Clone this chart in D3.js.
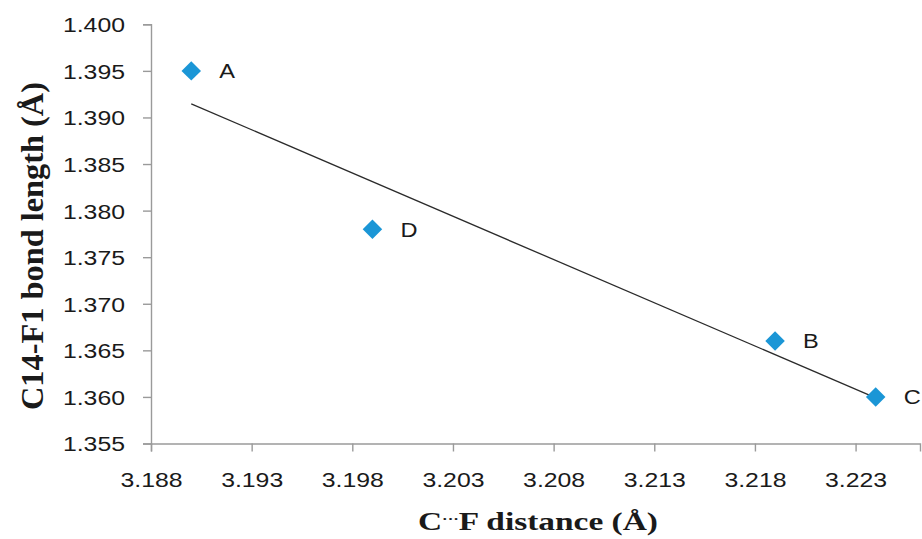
<!DOCTYPE html>
<html>
<head>
<meta charset="utf-8">
<script src="https://cdn.jsdelivr.net/npm/d3@7"></script>
<style>
  body { margin: 0; background: #fff; }
  svg { display: block; }
  .tick text, .ptlabel { font-family: "Liberation Sans", Arial, sans-serif; font-size: 20.5px; fill: #1a1a1a; }
  .title { font-family: "Liberation Serif", "Times New Roman", serif; font-weight: bold; fill: #1a1a1a; }
</style>
</head>
<body>
<svg width="922" height="539"></svg>
<script>
/* values */
var names = ["A", "D", "B", "C"];
var cf_distance = [3.190, 3.199, 3.219, 3.224];
var bond_length = [1.395, 1.378, 1.366, 1.360];
var x_ticks = [3.188, 3.193, 3.198, 3.203, 3.208, 3.213, 3.218, 3.223];
var y_ticks = [1.355, 1.360, 1.365, 1.370, 1.375, 1.380, 1.385, 1.390, 1.395, 1.400];

var svg = d3.select("svg");
var x = d3.scaleLinear().domain([3.188, 3.2262]).range([151, 920]);
var y = d3.scaleLinear().domain([1.355, 1.400]).range([443.5, 24.3]);

// the text in the picture is wider than the fonts we have, stretch it a bit
function stretch(sel, k) {
  sel.each(function() {
    var w = this.getComputedTextLength();
    d3.select(this).attr("textLength", w * k).attr("lengthAdjust", "spacingAndGlyphs");
  });
}

var xAxis = svg.append("g")
  .attr("transform", "translate(0,443.5)")
  .call(d3.axisBottom(x).tickValues(x_ticks).tickFormat(d3.format(".3f")).tickSizeOuter(0).tickSize(8).tickPadding(0));
xAxis.selectAll("text").attr("dy", null).attr("y", 43.5);

var yAxis = svg.append("g")
  .attr("transform", "translate(151,0)")
  .call(d3.axisLeft(y).tickValues(y_ticks).tickFormat(d3.format(".3f")).tickSizeOuter(0).tickSize(8).tickPadding(0));
yAxis.selectAll("text").attr("x", -26).attr("dy", "0.36em");

svg.selectAll(".domain, .tick line").attr("stroke", "#9a9a9a").attr("stroke-width", 1.4);
stretch(svg.selectAll(".tick text"), 1.21);

/* linear trend line through the points (least squares) */
var mx = d3.mean(cf_distance), my = d3.mean(bond_length);
var sxy = d3.sum(cf_distance, function(d, i) { return (d - mx) * (bond_length[i] - my); });
var sxx = d3.sum(cf_distance, function(d) { return (d - mx) * (d - mx); });
var slope = sxy / sxx, icpt = my - slope * mx;
var x0 = d3.min(cf_distance), x1 = d3.max(cf_distance);
svg.append("line")
  .attr("x1", x(x0)).attr("y1", y(slope * x0 + icpt))
  .attr("x2", x(x1)).attr("y2", y(slope * x1 + icpt))
  .attr("stroke", "#2b2b2b").attr("stroke-width", 1.3);

var pts = svg.selectAll(".pt").data(names).enter().append("g")
  .attr("transform", function(d, i) { return "translate(" + x(cf_distance[i]) + "," + y(bond_length[i]) + ")"; });
pts.append("path")
  .attr("d", d3.symbol(d3.symbolSquare, 190)())
  .attr("transform", "rotate(45)")
  .attr("fill", "#1b96d6");
pts.append("text")
  .attr("class", "ptlabel")
  .attr("x", 28).attr("dy", "0.36em")
  .text(function(d) { return d; });
stretch(svg.selectAll(".ptlabel"), 1.15);

/* axis titles */
var xt = svg.append("text")
  .attr("class", "title")
  .attr("x", 538).attr("y", 530)
  .attr("text-anchor", "middle")
  .style("font-size", "26px");
xt.append("tspan").text("C");
xt.append("tspan").attr("dy", -7).style("font-size", "13px").text("···");
xt.append("tspan").attr("dy", 7).text("F distance (Å)");
xt.attr("textLength", 240).attr("lengthAdjust", "spacingAndGlyphs");

svg.append("text")
  .attr("class", "title")
  .attr("transform", "translate(43,246) rotate(-90)")
  .attr("text-anchor", "middle")
  .style("font-size", "32px")
  .attr("textLength", 328).attr("lengthAdjust", "spacingAndGlyphs")
  .text("C14-F1 bond length (Å)");
</script>
</body>
</html>
